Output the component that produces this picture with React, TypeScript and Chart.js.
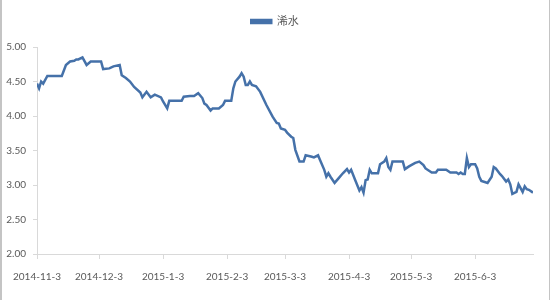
import React, { useEffect, useRef } from "react";
import { Chart, registerables } from "chart.js";

Chart.register(...registerables);

const seriesName = "浠水";

const dates = [
  "2014-11-3", "2014-11-4", "2014-11-5", "2014-11-6", "2014-11-8", "2014-11-15", "2014-11-17",
  "2014-11-19", "2014-11-21", "2014-11-22", "2014-11-23", "2014-11-25", "2014-11-27", "2014-11-29",
  "2014-12-4", "2014-12-5", "2014-12-8", "2014-12-10", "2014-12-13", "2014-12-14", "2014-12-16",
  "2014-12-18", "2014-12-20", "2014-12-23", "2014-12-24", "2014-12-26", "2014-12-28", "2014-12-30",
  "2015-1-2", "2015-1-3", "2015-1-5", "2015-1-6", "2015-1-12", "2015-1-13", "2015-1-16",
  "2015-1-18", "2015-1-20", "2015-1-22", "2015-1-23", "2015-1-24", "2015-1-26", "2015-1-27",
  "2015-1-30", "2015-2-1", "2015-2-2", "2015-2-5", "2015-2-6", "2015-2-7", "2015-2-9",
  "2015-2-10", "2015-2-11", "2015-2-12", "2015-2-13", "2015-2-14", "2015-2-15", "2015-2-17",
  "2015-2-19", "2015-2-22", "2015-2-25", "2015-2-27", "2015-2-28", "2015-3-1", "2015-3-3",
  "2015-3-4", "2015-3-6", "2015-3-7", "2015-3-8", "2015-3-10", "2015-3-12", "2015-3-13",
  "2015-3-16", "2015-3-17", "2015-3-19", "2015-3-20", "2015-3-22", "2015-3-23", "2015-3-24",
  "2015-3-25", "2015-3-27", "2015-3-29", "2015-3-31", "2015-4-2", "2015-4-3", "2015-4-4",
  "2015-4-6", "2015-4-8", "2015-4-9", "2015-4-10", "2015-4-11", "2015-4-12", "2015-4-13",
  "2015-4-14", "2015-4-17", "2015-4-18", "2015-4-20", "2015-4-21", "2015-4-22", "2015-4-23",
  "2015-4-24", "2015-4-29", "2015-4-30", "2015-5-2", "2015-5-5", "2015-5-7", "2015-5-9",
  "2015-5-10", "2015-5-13", "2015-5-15", "2015-5-16", "2015-5-20", "2015-5-22", "2015-5-25",
  "2015-5-26", "2015-5-27", "2015-5-28", "2015-5-29", "2015-5-30", "2015-5-31", "2015-6-1",
  "2015-6-3", "2015-6-4", "2015-6-5", "2015-6-6", "2015-6-8", "2015-6-9", "2015-6-11",
  "2015-6-12", "2015-6-13", "2015-6-15", "2015-6-16", "2015-6-18", "2015-6-19", "2015-6-20",
  "2015-6-21", "2015-6-23", "2015-6-24", "2015-6-26", "2015-6-27", "2015-6-28", "2015-6-29",
  "2015-7-1",
];

const values = [
  4.47, 4.40, 4.50, 4.47, 4.58, 4.58, 4.74,
  4.79, 4.80, 4.82, 4.82, 4.85, 4.74, 4.79,
  4.79, 4.68, 4.69, 4.72, 4.74, 4.59, 4.55,
  4.50, 4.42, 4.34, 4.27, 4.35, 4.27, 4.31,
  4.27, 4.21, 4.11, 4.22, 4.22, 4.28, 4.29,
  4.29, 4.33, 4.26, 4.18, 4.16, 4.08, 4.11,
  4.11, 4.16, 4.22, 4.22, 4.40, 4.50, 4.57,
  4.62, 4.57, 4.45, 4.45, 4.50, 4.45, 4.43,
  4.35, 4.16, 3.99, 3.90, 3.89, 3.82, 3.80,
  3.76, 3.70, 3.68, 3.51, 3.34, 3.34, 3.43,
  3.41, 3.40, 3.43, 3.36, 3.22, 3.12, 3.17,
  3.12, 3.03, 3.10, 3.17, 3.23, 3.18, 3.22,
  3.07, 2.92, 2.97, 2.89, 3.07, 3.08, 3.22,
  3.17, 3.17, 3.30, 3.34, 3.39, 3.26, 3.22,
  3.34, 3.34, 3.23, 3.27, 3.32, 3.34, 3.29,
  3.24, 3.18, 3.18, 3.22, 3.22, 3.18, 3.18,
  3.16, 3.18, 3.16, 3.16, 3.39, 3.26, 3.30,
  3.30, 3.24, 3.12, 3.06, 3.04, 3.03, 3.12,
  3.26, 3.24, 3.16, 3.13, 3.05, 3.08, 3.01,
  2.87, 2.90, 3.01, 2.90, 2.98, 2.94, 2.93,
  2.89,
];

const xTickLabels = [
  "2014-11-3", "2014-12-3", "2015-1-3", "2015-2-3",
  "2015-3-3", "2015-4-3", "2015-5-3", "2015-6-3",
];
const xAxisStart = "2014-11-3";
const xAxisEnd = "2015-7-1";

const yMin = 2;
const yMax = 5;
const yStep = 0.5;

const toDay = (s: string) => {
  const [y, m, d] = s.split("-").map(Number);
  return Date.UTC(y, m - 1, d) / 86400000;
};

const FONT = "Lato, 'Noto Sans CJK SC', sans-serif";
const TEXT = "#595959";
const AXIS = "#d9d9d9";
const LINE = "#4571a9";

const frame = {
  id: "frame",
  afterDraw(chart: any) {
    const { ctx, width, height } = chart;
    ctx.save();
    ctx.fillStyle = "#c4c4c4";
    ctx.fillRect(0, 0, 2, height);
    ctx.fillRect(width - 1, 0, 1, height);
    ctx.restore();
  },
};

const whiteBg = {
  id: "whiteBg",
  beforeDraw(chart: any) {
    const { ctx, width, height } = chart;
    ctx.save();
    ctx.fillStyle = "#ffffff";
    ctx.fillRect(0, 0, width, height);
    ctx.restore();
  },
};

const legendGap = {
  id: "legendGap",
  beforeInit(chart: any) {
    const legend = chart.legend;
    if (!legend) return;
    const origFit = legend.fit;
    legend.fit = function () {
      origFit.call(this);
      this.height += 10;
    };
  },
  afterLayout(chart: any) {
    const legend = chart.legend;
    if (!legend) return;
    legend.left = 0;
    legend.right = chart.width;
    legend.width = chart.width;
  },
};

export default function App() {
  const ref = useRef<HTMLCanvasElement | null>(null);

  useEffect(() => {
    if (!ref.current) return;
    const points = dates.map((d, i) => ({ x: toDay(d), y: values[i] }));
    const tickDays = xTickLabels.map(toDay);

    const chart = new Chart(ref.current, {
      type: "line",
      data: {
        datasets: [
          {
            label: seriesName,
            data: points,
            borderColor: LINE,
            backgroundColor: LINE,
            borderWidth: 2.5,
            pointRadius: 0,
            tension: 0,
            fill: false,
          },
        ],
      },
      options: {
        responsive: false,
        animation: false,
        layout: { padding: { left: 0, right: 17, top: 6, bottom: 0 } },
        plugins: {
          tooltip: { enabled: false },
          legend: {
            display: true,
            position: "top",
            labels: {
              boxWidth: 20,
              boxHeight: 3,
              padding: 10,
              color: TEXT,
              font: { family: FONT, size: 11 },
            },
          },
        },
        scales: {
          x: {
            type: "linear",
            min: toDay(xAxisStart),
            max: toDay(xAxisEnd),
            afterBuildTicks: (scale: any) => {
              scale.ticks = tickDays.map((v) => ({ value: v }));
            },
            afterFit: (scale: any) => {
              scale.height = 46;
            },
            ticks: {
              autoSkip: false,
              maxRotation: 0,
              padding: 12,
              color: TEXT,
              font: { family: FONT, size: 10 },
              callback: (v: any) => {
                const i = tickDays.indexOf(Number(v));
                return i >= 0 ? xTickLabels[i] : "";
              },
            },
            grid: {
              drawOnChartArea: false,
              tickLength: 5,
              color: AXIS,
            },
            border: { color: AXIS, width: 1 },
          },
          y: {
            min: yMin,
            max: yMax,
            afterFit: (scale: any) => {
              scale.width = 37;
            },
            ticks: {
              stepSize: yStep,
              padding: 7,
              color: TEXT,
              font: { family: FONT, size: 10 },
              callback: (v: any) => Number(v).toFixed(2),
            },
            grid: {
              drawOnChartArea: false,
              tickLength: 4,
              color: AXIS,
            },
            border: { color: AXIS, width: 1 },
          },
        },
      },
      plugins: [whiteBg, frame, legendGap],
    });
    return () => chart.destroy();
  }, []);

  return (
    <div style={{ position: "absolute", left: 0, top: 0, width: 550, height: 300 }}>
      <canvas ref={ref} width={550} height={300} style={{ display: "block" }} />
    </div>
  );
}
